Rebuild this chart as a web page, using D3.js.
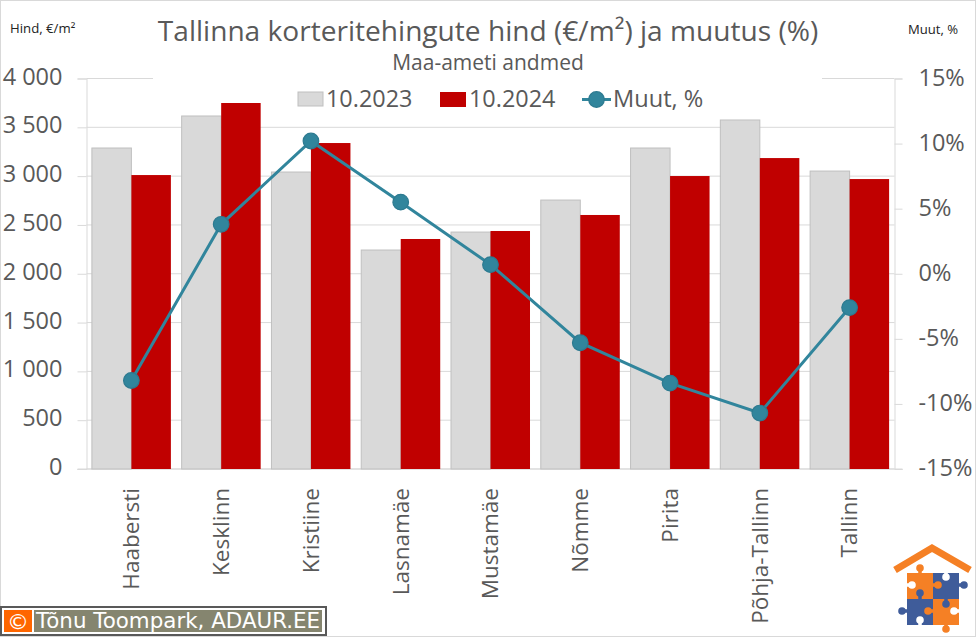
<!DOCTYPE html>
<html>
<head>
<meta charset="utf-8">
<script src="https://cdn.jsdelivr.net/npm/d3@7"></script>
<style>
  html, body { margin: 0; padding: 0; background: #fff; }
  text { font-family: "Open Sans", "Noto Sans", sans-serif; }
</style>
</head>
<body>
<div id="chart"></div>
<script>
var districts = ["Haabersti", "Kesklinn", "Kristiine", "Lasnamäe", "Mustamäe", "Nõmme", "Pirita", "Põhja-Tallinn", "Tallinn"]
var price2023 = [3288, 3616, 3042, 2243, 2427, 2755, 3288, 3575, 3052]
var price2024 = [3011, 3749, 3339, 2356, 2438, 2602, 3001, 3185, 2970]
var change = [-8.2, 3.8, 10.2, 5.5, 0.7, -5.3, -8.4, -10.7, -2.6]
var priceTicks = [0, 500, 1000, 1500, 2000, 2500, 3000, 3500, 4000]
var changeTicks = [-15, -10, -5, 0, 5, 10, 15]

var width = 976, height = 637
var margin = {top: 78.5, right: 81.5, bottom: 168, left: 86.5}
var gridColor = "#d9d9d9", textColor = "#595959"
var colors = {a: "#d9d9d9", aStroke: "#bfbfbf", b: "#c00000", line: "#31859c", lineDark: "#2d7a90"}

var svg = d3.select("#chart").append("svg")
  .attr("width", width)
  .attr("height", height)
  .style("display", "block")

svg.append("rect")
  .attr("x", 0.5).attr("y", 0.5)
  .attr("width", width - 1).attr("height", height - 1)
  .attr("fill", "#fff")
  .attr("stroke", gridColor)

///////////////////////////// Scales /////////////////////////////
var x = d3.scaleBand()
  .domain(districts)
  .range([margin.left, width - margin.right])
  .paddingInner(0.12)
  .paddingOuter(0.06)

var xInner = d3.scaleBand()
  .domain(["a", "b"])
  .range([0, x.bandwidth()])

var yLeft = d3.scaleLinear().domain([0, 4000]).range([height - margin.bottom, margin.top])
var yRight = d3.scaleLinear().domain([-15, 15]).range([height - margin.bottom, margin.top])

///////////////////////////// Axes /////////////////////////////
var spaced = function (d) { return d3.format(",")(d).replace(/,/g, " ") }

var leftAxis = svg.append("g")
  .attr("transform", "translate(" + margin.left + ",0)")
  .call(d3.axisLeft(yLeft).tickValues(priceTicks).tickFormat(spaced).tickSize(9).tickPadding(15))

var rightAxis = svg.append("g")
  .attr("transform", "translate(" + (width - margin.right) + ",0)")
  .call(d3.axisRight(yRight).tickValues(changeTicks).tickFormat(function (d) { return d + "%" }).tickSize(8).tickPadding(16))

svg.append("g")
  .selectAll("line")
  .data(priceTicks)
  .join("line")
  .attr("x1", margin.left).attr("x2", width - margin.right)
  .attr("y1", function (d) { return yLeft(d) }).attr("y2", function (d) { return yLeft(d) })
  .attr("stroke", gridColor)

svg.append("line")
  .attr("x1", margin.left - 9).attr("x2", width - margin.right + 8)
  .attr("y1", yLeft(0)).attr("y2", yLeft(0))
  .attr("stroke", gridColor)

var bottomAxis = svg.append("g")
  .attr("transform", "translate(0," + (height - margin.bottom) + ")")
  .call(d3.axisBottom(x).tickSize(0))

bottomAxis.select(".domain").remove()
bottomAxis.selectAll("text")
  .attr("transform", "rotate(-90)")
  .attr("text-anchor", "end")
  .attr("x", -19)
  .attr("y", 0)
  .attr("dy", "0.35em")
  .attr("fill", textColor)
  .style("font-size", "22.5px")

;[leftAxis, rightAxis].forEach(function (g) {
  g.selectAll(".domain").attr("stroke", gridColor)
  g.selectAll(".tick line").attr("stroke", gridColor)
  g.selectAll("text").attr("fill", textColor).attr("y", -2).style("font-size", "23.5px")
})
rightAxis.selectAll("text").attr("y", -1)

// white title/legend box hides the top gridline but stays behind the bars
svg.append("rect")
  .attr("x", 153).attr("y", 50)
  .attr("width", 669).attr("height", 62)
  .attr("fill", "#fff")

///////////////////////////// Bars /////////////////////////////
var groups = svg.append("g")
  .selectAll("g")
  .data(districts)
  .join("g")
  .attr("transform", function (d) { return "translate(" + x(d) + ",0)" })

groups.append("rect")
  .attr("x", xInner("a"))
  .attr("width", xInner.bandwidth())
  .attr("y", function (d, i) { return yLeft(price2023[i]) })
  .attr("height", function (d, i) { return yLeft(0) - yLeft(price2023[i]) })
  .attr("fill", colors.a)
  .attr("stroke", colors.aStroke)

groups.append("rect")
  .attr("x", xInner("b"))
  .attr("width", xInner.bandwidth())
  .attr("y", function (d, i) { return yLeft(price2024[i]) })
  .attr("height", function (d, i) { return yLeft(0) - yLeft(price2024[i]) })
  .attr("fill", colors.b)

///////////////////////////// Line /////////////////////////////
var line = d3.line()
  .x(function (d, i) { return x(districts[i]) + x.bandwidth() / 2 })
  .y(function (d) { return yRight(d) })

svg.append("path")
  .datum(change)
  .attr("d", line)
  .attr("fill", "none")
  .attr("stroke", colors.line)
  .attr("stroke-width", 3)

svg.append("g")
  .selectAll("circle")
  .data(change)
  .join("circle")
  .attr("cx", function (d, i) { return x(districts[i]) + x.bandwidth() / 2 })
  .attr("cy", function (d) { return yRight(d) })
  .attr("r", 7.8)
  .attr("fill", colors.line)
  .attr("stroke", colors.lineDark)
  .attr("stroke-width", 1.2)

///////////////////////////// Texts /////////////////////////////
svg.append("text")
  .attr("x", 488).attr("y", 41)
  .attr("text-anchor", "middle")
  .attr("fill", textColor)
  .style("font-size", "28.1px")
  .text("Tallinna korteritehingute hind (€/m²) ja muutus (%)")

svg.append("text")
  .attr("x", 488).attr("y", 70)
  .attr("text-anchor", "middle")
  .attr("fill", textColor)
  .style("font-size", "21px")
  .text("Maa-ameti andmed")

svg.append("text")
  .attr("x", 10).attr("y", 33)
  .attr("fill", "#222")
  .style("font-size", "13.2px")
  .text("Hind, €/m²")

svg.append("text")
  .attr("x", 908).attr("y", 34)
  .attr("fill", "#222")
  .style("font-size", "13.1px")
  .text("Muut, %")

///////////////////////////// Legend /////////////////////////////
var legend = svg.append("g")

legend.append("rect")
  .attr("x", 298).attr("y", 92).attr("width", 25).attr("height", 14)
  .attr("fill", colors.a).attr("stroke", colors.aStroke)
legend.append("text")
  .attr("x", 326).attr("y", 107)
  .attr("fill", textColor).style("font-size", "23.4px")
  .text("10.2023")

legend.append("rect")
  .attr("x", 440).attr("y", 92).attr("width", 26).attr("height", 15)
  .attr("fill", colors.b)
legend.append("text")
  .attr("x", 469).attr("y", 107)
  .attr("fill", textColor).style("font-size", "23.4px")
  .text("10.2024")

legend.append("line")
  .attr("x1", 582).attr("x2", 611).attr("y1", 99.5).attr("y2", 99.5)
  .attr("stroke", colors.line).attr("stroke-width", 3)
legend.append("circle")
  .attr("cx", 596.5).attr("cy", 99.5).attr("r", 7.8)
  .attr("fill", colors.line).attr("stroke", colors.lineDark).attr("stroke-width", 1.2)
legend.append("text")
  .attr("x", 613).attr("y", 107)
  .attr("fill", textColor).style("font-size", "23.6px")
  .text("Muut, %")

///////////////////////////// Copyright badge /////////////////////////////
var badge = svg.append("g")
badge.append("rect")
  .attr("x", 1).attr("y", 607).attr("width", 325).attr("height", 28)
  .attr("fill", "#fff").attr("stroke", "#595959").attr("stroke-width", 2)
badge.append("rect")
  .attr("x", 4).attr("y", 610).attr("width", 28).attr("height", 22)
  .attr("fill", "#ff6600")
badge.append("rect")
  .attr("x", 34).attr("y", 610).attr("width", 288).attr("height", 22)
  .attr("fill", "#85856f")
badge.append("text")
  .attr("x", 18).attr("y", 629)
  .attr("text-anchor", "middle")
  .attr("fill", "#fff")
  .style("font-family", "DejaVu Sans").style("font-size", "22px")
  .text("©")
badge.append("text")
  .attr("x", 36).attr("y", 628)
  .attr("fill", "#fff")
  .style("font-family", "DejaVu Sans").style("font-size", "21.4px")
  .text("Tõnu Toompark, ADAUR.EE")

///////////////////////////// House logo /////////////////////////////
var logo = svg.append("g").attr("transform", "translate(870,530)")
var orange = "#f58025", blue = "#3f5c9a"

logo.append("path")
  .attr("d", "M25,40 L62,18 L100,40")
  .attr("fill", "none").attr("stroke", orange).attr("stroke-width", 7)

logo.append("rect").attr("x", 37).attr("y", 43).attr("width", 26).attr("height", 26).attr("fill", orange)
logo.append("rect").attr("x", 63).attr("y", 43).attr("width", 26).attr("height", 26).attr("fill", blue)
logo.append("rect").attr("x", 37).attr("y", 69).attr("width", 26).attr("height", 26).attr("fill", blue)
logo.append("rect").attr("x", 63).attr("y", 69).attr("width", 26).attr("height", 26).attr("fill", orange)

// puzzle knobs: centre, colour, and the edge point the stem grows from
var knobs = [
  [50, 38, orange, 50, 44], [68, 55, orange, 62, 55], [76, 47, "#fff", 76, 42], [42, 55, "#fff", 36, 55],
  [94, 55, blue, 88, 55], [50, 63, blue, 50, 70], [32, 81, blue, 38, 81], [58, 81, orange, 64, 81],
  [76, 74, blue, 76, 68], [50, 90, "#fff", 50, 96], [84, 81, "#fff", 90, 81], [76, 99, orange, 76, 94]
]
logo.selectAll("line.stem")
  .data(knobs)
  .join("line")
  .attr("class", "stem")
  .attr("x1", function (d) { return d[0] }).attr("y1", function (d) { return d[1] })
  .attr("x2", function (d) { return d[3] }).attr("y2", function (d) { return d[4] })
  .attr("stroke", function (d) { return d[2] })
  .attr("stroke-width", 3.5)
logo.selectAll("circle")
  .data(knobs)
  .join("circle")
  .attr("cx", function (d) { return d[0] })
  .attr("cy", function (d) { return d[1] })
  .attr("r", 3.8)
  .attr("fill", function (d) { return d[2] })
</script>
</body>
</html>
